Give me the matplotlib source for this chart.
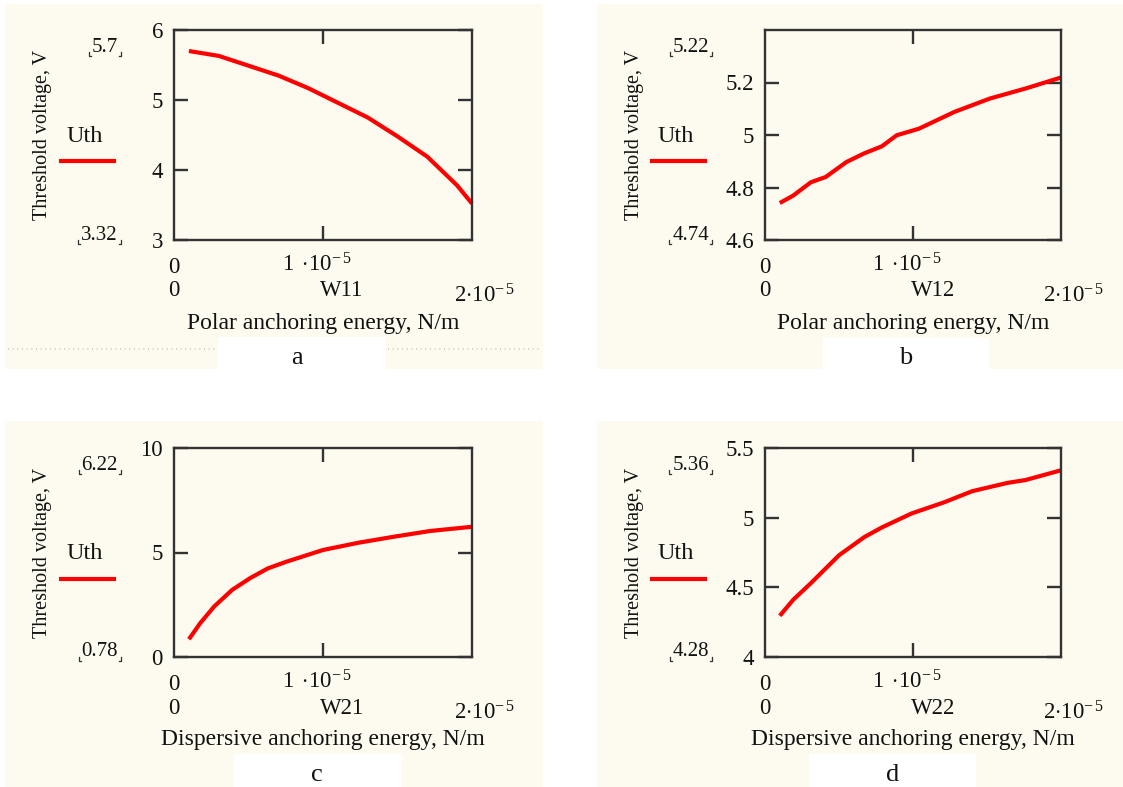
import matplotlib
matplotlib.use("Agg")
import matplotlib.pyplot as plt
from matplotlib.patches import Rectangle
from matplotlib.lines import Line2D

plt.rcParams['font.family'] = ['Liberation Serif', 'DejaVu Serif']
plt.rcParams['mathtext.fontset'] = 'custom'
plt.rcParams['mathtext.rm'] = 'Liberation Serif'
plt.rcParams['mathtext.it'] = 'Liberation Serif:italic'

# data (x in N/m, Uth in V)
w11 = [1.0e-6, 3.0e-6, 5.0e-6, 7.0e-6, 9.0e-6, 11.0e-6, 13.0e-6, 15.0e-6, 17.0e-6, 19.0e-6, 20.0e-6]
uth11 = [5.70, 5.63, 5.49, 5.35, 5.17, 4.96, 4.75, 4.48, 4.19, 3.78, 3.52]

w12 = [1.0e-6, 1.9e-6, 3.1e-6, 4.1e-6, 5.5e-6, 6.7e-6, 7.9e-6, 8.9e-6, 10.4e-6, 12.8e-6, 15.2e-6, 17.6e-6, 20.0e-6]
uth12 = [4.741, 4.769, 4.82, 4.84, 4.897, 4.93, 4.957, 4.999, 5.024, 5.088, 5.139, 5.177, 5.219]

w21 = [1.0e-6, 1.76e-6, 2.7e-6, 3.9e-6, 5.1e-6, 6.3e-6, 7.55e-6, 10.0e-6, 12.4e-6, 14.8e-6, 17.2e-6, 20.0e-6]
uth21 = [0.85, 1.62, 2.42, 3.21, 3.77, 4.24, 4.56, 5.12, 5.47, 5.76, 6.03, 6.23]

w22 = [1.0e-6, 1.9e-6, 3.1e-6, 5.0e-6, 6.7e-6, 7.9e-6, 9.9e-6, 12.1e-6, 14.0e-6, 16.4e-6, 17.6e-6, 20.0e-6]
uth22 = [4.296, 4.41, 4.53, 4.73, 4.86, 4.93, 5.03, 5.11, 5.19, 5.25, 5.27, 5.34]

xnames = ['W11', 'W12', 'W21', 'W22']
xlabels = ['Polar anchoring energy, N/m', 'Polar anchoring energy, N/m',
           'Dispersive anchoring energy, N/m', 'Dispersive anchoring energy, N/m']
ylims = [(3, 6), (4.6, 5.4), (0, 10), (4, 5.5)]
yticks = [[3, 4, 5, 6], [4.6, 4.8, 5.0, 5.2], [0, 5, 10], [4, 4.5, 5, 5.5]]
ytick_labels = [['3', '4', '5', '6'], ['4.6', '4.8', '5', '5.2'], ['0', '5', '10'], ['4', '4.5', '5', '5.5']]
max_labels = ['5.7', '5.22', '6.22', '5.36']
min_labels = ['3.32', '4.74', '0.78', '4.28']
panel_letters = ['a', 'b', 'c', 'd']
xs = [w11, w12, w21, w22]
ys = [uth11, uth12, uth21, uth22]

W, H = 1123, 787
CREAM = '#fdfbef'
RED = '#ff0000'
INK = '#111111'

fig = plt.figure(figsize=(W / 100, H / 100), dpi=100, facecolor='white')


def fx(x):
    return x / W


def fy(y):
    return 1 - y / H


def rect(x0, y0, x1, y1, color, z):
    fig.add_artist(Rectangle((fx(x0), fy(y1)), (x1 - x0) / W, (y1 - y0) / H,
                             transform=fig.transFigure, facecolor=color,
                             edgecolor='none', zorder=z))


def ftext(x, y, s, **kw):
    kw.setdefault('color', INK)
    return fig.text(fx(x), fy(y), s, **kw)


# panel layout in pixels
panels = [(5, 4, 543, 369), (597, 4, 1123, 369), (5, 421, 543, 787), (597, 421, 1123, 787)]
white_boxes = [(218, 337, 386, 369), (823, 338, 989, 369), (234, 754, 402, 787), (809, 754, 976, 787)]
axes_boxes = [(174, 30, 472, 240), (765, 30, 1061, 240), (174, 448, 472, 657), (765, 448, 1061, 657)]
letter_pos = [(297, 358), (906, 358), (317, 775), (893, 775)]

for p in panels:
    rect(*p, CREAM, 0)
for b in white_boxes:
    rect(*b, 'white', 1)

# faint scan dots in panel a
for seg in [(8, 216), (388, 540)]:
    fig.add_artist(Line2D([fx(seg[0]), fx(seg[1])], [fy(349), fy(349)], transform=fig.transFigure,
                          color='#c8c8c0', lw=1.2, ls=(0, (0.6, 2.2)), zorder=2))

marks = []
for i in range(4):
    L, T, R, B = axes_boxes[i]
    mid = (T + B) / 2
    ax = fig.add_axes([fx(L), fy(B), (R - L) / W, (B - T) / H])
    ax.set_facecolor(CREAM)
    ax.plot(xs[i], ys[i], color=RED, lw=3.0, solid_capstyle='butt', clip_on=False)
    ax.set_xlim(0, 2e-5)
    ax.set_ylim(*ylims[i])
    ax.set_yticks(yticks[i])
    ax.set_yticklabels(ytick_labels[i], fontsize=16.5, color=INK)
    ax.set_xticks([1e-5])
    ax.set_xticklabels([])
    ax.tick_params(axis='both', direction='in', length=10, width=1.7, color='#333333',
                   top=True, right=True, pad=8)
    for s in ax.spines.values():
        s.set_color('#333333')
        s.set_linewidth(1.7)

    # x axis labels, Mathcad style
    ftext(L, B + 28, '0', fontsize=16.5, ha='center', va='center')
    ftext((L + R) / 2 - 6, B + 25, r'$1\;\cdot\!10^{-\,5}$', fontsize=16.5, ha='center', va='center')
    ftext(L, B + 51, '0', fontsize=16.5, ha='center', va='center')
    ftext(L + 168, B + 51, xnames[i], fontsize=16.5, ha='center', va='center')
    ftext(R + 13, B + 56, r'$2{\cdot}10^{-\,5}$', fontsize=16.5, ha='center', va='center')
    ftext((L + R) / 2, B + 83, xlabels[i], fontsize=17, ha='center', va='center')

    # y axis side
    ftext(L - 131, mid, 'Threshold voltage, V', fontsize=14.5, rotation=90, ha='center', va='center')
    ftext(L - 89, mid + 1, 'Uth', fontsize=17.5, ha='center', va='center')
    fig.add_artist(Line2D([fx(L - 113), fx(L - 60)], [fy(mid + 26), fy(mid + 26)],
                          transform=fig.transFigure, color=RED, lw=3.0))
    t1 = ftext(L - 56, T + 17, max_labels[i], fontsize=15, ha='right', va='center')
    t2 = ftext(L - 56, B - 5, min_labels[i], fontsize=15, ha='right', va='center')
    marks += [t1, t2]

    lx, ly = letter_pos[i]
    ftext(lx, ly, panel_letters[i], fontsize=19, ha='center', va='center')

# small corner brackets around the range labels
fig.canvas.draw()
rend = fig.canvas.get_renderer()
for t in marks:
    bb = t.get_window_extent(rend)
    x0, x1 = bb.x0 - 3, bb.x1 + 3
    yb = bb.y0 + 1
    for xa, xb in [(x0, x0 + 2), (x1, x1 - 2)]:
        fig.add_artist(Line2D([xa / W, xa / W, xb / W], [(yb + 4) / H, yb / H, yb / H],
                              transform=fig.transFigure, color='#333333', lw=0.9))

fig.savefig('out.png', dpi=100, facecolor='white')
